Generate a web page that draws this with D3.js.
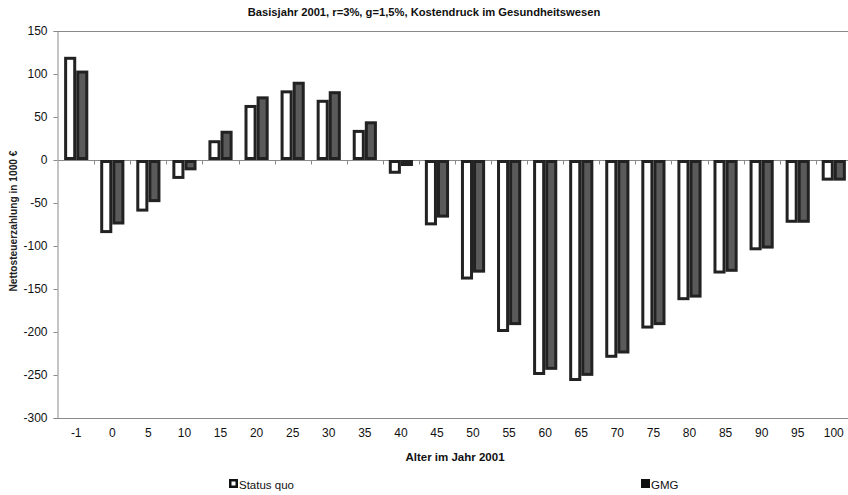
<!DOCTYPE html>
<html><head><meta charset="utf-8">
<script src="https://cdn.jsdelivr.net/npm/d3@7"></script>
<style>
body{margin:0;background:#fff;}
svg{display:block;font-family:"Liberation Sans",Arial,sans-serif;}
</style></head>
<body><svg id="chart" width="848" height="495"></svg>
<script>
const categories = ["-1","0","5","10","15","20","25","30","35","40","45","50","55","60","65","70","75","80","85","90","95","100"];
const statusQuo = [120,-85,-60,-22,23,64,81,70,35,-16,-76,-139,-200,-250,-257,-230,-196,-163,-132,-105,-73,-24];
const gmg       = [104,-75,-49,-12,34,74,91,80,45,-7,-67,-131,-192,-244,-251,-225,-192,-160,-130,-103,-73,-24];
const seriesNames = ["Status quo","GMG"];
const yTicks = [150,100,50,0,-50,-100,-150,-200,-250,-300];
const titleText = "Basisjahr 2001, r=3%, g=1,5%, Kostendruck im Gesundheitswesen";
const xTitle = "Alter im Jahr 2001";
const yTitle = "Nettosteuerzahlung in 1000 €";

const svg = d3.select("#chart");
const mLeft = 58, mRight = 852, mTop = 31, mBottom = 418;
const strokeCol = "#222", darkFill = "#5a5a5a", axisCol = "#8a8a8a";

const y = d3.scaleLinear().domain([-300,150]).range([mBottom, mTop]);
const x0 = d3.scaleBand().domain(categories).range([mLeft, mRight]).paddingInner(0.33).paddingOuter(0.17);
const x1 = d3.scaleBand().domain(seriesNames).range([0, x0.bandwidth()]);

// plot border
svg.append("line").attr("x1",mLeft-1).attr("x2",848).attr("y1",mTop+0.5).attr("y2",mTop+0.5).attr("stroke",axisCol);
svg.append("line").attr("x1",mLeft-1).attr("x2",848).attr("y1",mBottom+0.5).attr("y2",mBottom+0.5).attr("stroke",axisCol);

// y axis
const yAxis = d3.axisLeft(y).tickValues(yTicks).tickSize(4).tickPadding(6).tickFormat(d => String(d));
const gy = svg.append("g").attr("transform",`translate(${mLeft-0.5},0)`).call(yAxis);
gy.select(".domain").attr("stroke",axisCol);
gy.selectAll(".tick line").attr("stroke",axisCol);
gy.selectAll(".tick text").attr("font-size",12).attr("fill","#111").attr("font-family","Liberation Sans, Arial, sans-serif");

// zero line with ticks at band boundaries
const zeroY = Math.round(y(0))+0.5;
svg.append("line").attr("x1",mLeft).attr("x2",848).attr("y1",zeroY).attr("y2",zeroY).attr("stroke",axisCol);
const gap = x0.step()-x0.bandwidth();
svg.append("g").selectAll("line").data(categories.slice(1)).join("line")
  .attr("x1", c => Math.round(x0(c) - gap/2)+0.5)
  .attr("x2", c => Math.round(x0(c) - gap/2)+0.5)
  .attr("y1", zeroY).attr("y2", zeroY+4).attr("stroke",axisCol);

// bars
const sw = 3;
const data = categories.map((c,i) => ({c, vals:[statusQuo[i], gmg[i]]}));
const groups = svg.append("g").selectAll("g").data(data).join("g")
  .attr("transform", d => `translate(${x0(d.c)},0)`);
groups.selectAll("rect").data(d => d.vals.map((v,j)=>({v, s:seriesNames[j]}))).join("rect")
  .attr("x", d => x1(d.s) + sw/2)
  .attr("width", x1.bandwidth() - sw)
  .attr("y", d => Math.min(y(d.v), y(0)) + sw/2)
  .attr("height", d => Math.max(0, Math.abs(y(d.v)-y(0)) - sw))
  .attr("fill", d => d.s === "GMG" ? darkFill : "#fff")
  .attr("stroke", strokeCol).attr("stroke-width", sw);

// x tick labels
svg.append("g").selectAll("text").data(categories).join("text")
  .attr("x", c => x0(c) + x0.bandwidth()/2)
  .attr("y", 437)
  .attr("text-anchor","middle").attr("font-size",12).attr("fill","#111")
  .text(c => c);

// titles
svg.append("text").attr("x",424).attr("y",16).attr("text-anchor","middle")
  .attr("font-size",11.2).attr("font-weight","bold").attr("fill","#111").text(titleText);
svg.append("text").attr("x",455).attr("y",461).attr("text-anchor","middle")
  .attr("font-size",11.5).attr("font-weight","bold").attr("fill","#111").text(xTitle);
svg.append("text").attr("transform","translate(17,221) rotate(-90)").attr("text-anchor","middle")
  .attr("font-size",10.2).attr("font-weight","bold").attr("fill","#222").text(yTitle);

// legend
const legend = [{name:"Status quo", x:229, fill:"#fff"},{name:"GMG", x:641, fill:"#111"}];
const lg = svg.append("g").selectAll("g").data(legend).join("g").attr("transform", d => `translate(${d.x},484)`);
lg.append("rect").attr("x",1.25).attr("y",-3.75).attr("width",6.5).attr("height",6.5)
  .attr("fill", d=>d.fill).attr("stroke","#111").attr("stroke-width",2.5);
lg.append("text").attr("x",10).attr("y",4.5).attr("font-size",11.5).attr("fill","#111").text(d=>d.name);
</script></body></html>
